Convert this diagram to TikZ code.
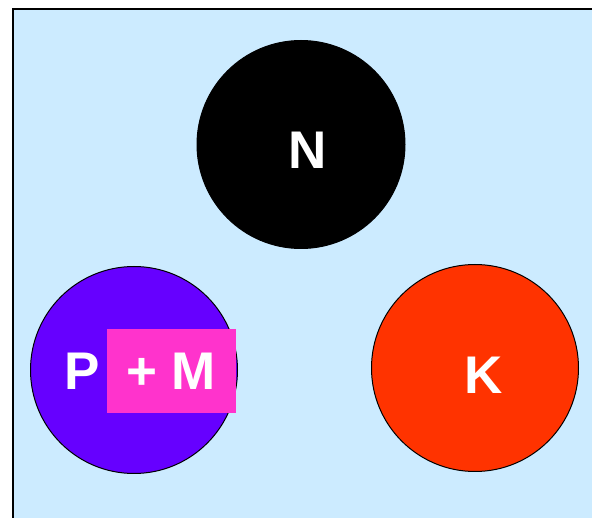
\documentclass[tikz,border=0pt]{standalone}
\usepackage{fontspec}
\setmainfont{Liberation Sans}
\definecolor{bgblue}{HTML}{CCEBFF}
\definecolor{purp}{HTML}{6600FF}
\definecolor{pinkbox}{HTML}{FF33CC}
\definecolor{redor}{HTML}{FF3300}
\begin{document}
\begin{tikzpicture}[x=1pt,y=-1pt,
  ball/.style={circle,draw=black,line width=1pt,minimum size=207pt,inner sep=0pt},
  lbl/.style={text=white,font=\fontsize{53}{53}\selectfont\bfseries,anchor=base,inner sep=0pt}]
\useasboundingbox (0,0) rectangle (592,518);
\fill[bgblue] (13,9) rectangle (600,530);
\draw[line width=2pt] (13,530) -- (13,9) -- (600,9);
\node[ball,fill=black,minimum size=208pt] (n) at (301,144.5) {};
\node[ball,fill=purp] (p) at (134,370) {};
\node[ball,fill=redor] (k) at (475,368) {};
\node[fill=pinkbox,minimum width=129pt,minimum height=84pt,inner sep=0pt] (box) at (171.5,371) {};
\node[lbl] (nl) at (307.5,169) {N};
\node[lbl] (kl) at (484,394) {K};
\node[lbl] (pl) at (82,390) {P};
\node[lbl] (ml) at (171,390) {+ M};
\end{tikzpicture}
\end{document}
